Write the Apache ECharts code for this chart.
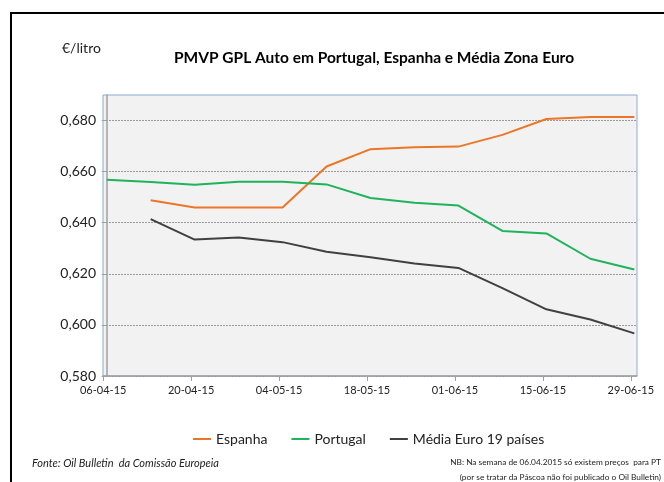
<!DOCTYPE html>
<html>
<head>
<meta charset="utf-8">
<script src="https://cdn.jsdelivr.net/npm/echarts@6/dist/echarts.min.js"></script>
<style>
html,body{margin:0;padding:0;background:#fff;}
#c{width:664px;height:482px;}
</style>
</head>
<body>
<div id="c"></div>
<script>
// Weekly dates (one per week, 06-04-15 to 29-06-15)
const weeks = ['06-04-15','13-04-15','20-04-15','27-04-15','04-05-15','11-05-15','18-05-15','25-05-15','01-06-15','08-06-15','15-06-15','22-06-15','29-06-15'];
// Tick labels shown on the x axis
const tickLabels = ['06-04-15','20-04-15','04-05-15','18-05-15','01-06-15','15-06-15','29-06-15'];
// Series (€/litro)
const espanha  = [null, 0.6488, 0.6460, 0.6460, 0.6460, 0.6620, 0.6688, 0.6695, 0.6698, 0.6744, 0.6806, 0.6814, 0.6814];
const portugal = [0.6568, 0.6559, 0.6549, 0.6560, 0.6560, 0.6550, 0.6497, 0.6478, 0.6467, 0.6368, 0.6358, 0.6259, 0.6217];
const mediaEuro= [null, 0.6414, 0.6334, 0.6342, 0.6324, 0.6286, 0.6265, 0.6240, 0.6223, 0.6144, 0.6061, 0.6021, 0.5967];
const yTicks = [0.58, 0.60, 0.62, 0.64, 0.66, 0.68];

const FONT = 'Lato, "Open Sans", sans-serif';
const tickShift = -0.08;
const tickPositions = tickLabels.map(l => weeks.indexOf(l) + tickShift);

function toPairs(arr){ return arr.map((v,i)=>[i,v]); }

const chart = echarts.init(document.getElementById('c'), null, {renderer:'canvas'});
chart.setOption({
  animation:false,
  backgroundColor:'#ffffff',
  textStyle:{fontFamily:FONT},
  title:{
    text:'PMVP GPL Auto em Portugal, Espanha e Média Zona Euro',
    left:369, top:45, textAlign:'center',
    textStyle:{fontFamily:FONT, fontSize:15.5, fontWeight:'bold', color:'#000'}
  },
  legend:{
    left:188, top:427,
    icon:'rect', itemWidth:18, itemHeight:2, itemGap:24,
    textStyle:{fontFamily:FONT, fontSize:14, color:'#222'},
    data:['Espanha','Portugal','Média Euro 19 países']
  },
  grid:{
    left:103, right:27, top:95, bottom:106,
    show:true, backgroundColor:'#f2f2f2', borderColor:'#8eaad6', borderWidth:1
  },
  xAxis:{
    type:'value', min:-0.084, max:12.061,
    splitLine:{show:false},
    axisLine:{show:true, onZero:false, lineStyle:{color:'#a0a0a0', width:1.5}},
    axisTick:{show:true, length:5, customValues:tickPositions, lineStyle:{color:'#a0a0a0'}},
    axisLabel:{
      customValues:tickPositions, margin:9,
      fontFamily:FONT, fontSize:11, color:'#222',
      formatter:function(v){ const i = Math.round(v - tickShift); return weeks[i] || ''; }
    }
  },
  yAxis:{
    type:'value', min:0.58, max:0.69,
    axisLine:{show:true, lineStyle:{color:'#a0a0a0', width:1.5}},
    axisTick:{show:true, length:5, customValues:yTicks, lineStyle:{color:'#a0a0a0'}},
    axisLabel:{
      customValues:yTicks, margin:7,
      fontFamily:FONT, fontSize:14, color:'#222',
      formatter:function(v){ return v.toFixed(3).replace('.', ','); }
    },
    splitLine:{show:true, lineStyle:{color:'#9a9a9a', type:[2,1], width:1}}
  },
  series:[
    {name:'Espanha', type:'line', data:toPairs(espanha), showSymbol:false, symbol:'none',
     lineStyle:{color:'#ec7626', width:2}, itemStyle:{color:'#ec7626'}},
    {name:'Portugal', type:'line', data:toPairs(portugal), showSymbol:false, symbol:'none',
     lineStyle:{color:'#1fb45a', width:2}, itemStyle:{color:'#1fb45a'}},
    {name:'Média Euro 19 países', type:'line', data:toPairs(mediaEuro), showSymbol:false, symbol:'none',
     lineStyle:{color:'#404040', width:2}, itemStyle:{color:'#404040'}}
  ],
  graphic:[
    {type:'line', shape:{x1:10, y1:13, x2:664, y2:13}, style:{stroke:'#000', lineWidth:2}},
    {type:'line', shape:{x1:11, y1:12, x2:11, y2:482}, style:{stroke:'#000', lineWidth:2}},
    {type:'text', left:62, top:41, style:{text:'€/litro', font:'14px '+FONT, fill:'#222'}},
    {type:'text', left:32, top:458, style:{text:'Fonte: Oil Bulletin  da Comissão Europeia', font:'italic 11px '+FONT, fill:'#222'}},
    {type:'text', right:3, top:458, style:{text:'NB: Na semana de 06.04.2015 só existem preços  para PT', font:'8.3px '+FONT, fill:'#222', align:'right'}},
    {type:'text', right:3, top:473, style:{text:'(por se tratar da Páscoa não foi publicado o Oil Bulletin)', font:'8.3px '+FONT, fill:'#222', align:'right'}}
  ]
});
</script>
</body>
</html>
